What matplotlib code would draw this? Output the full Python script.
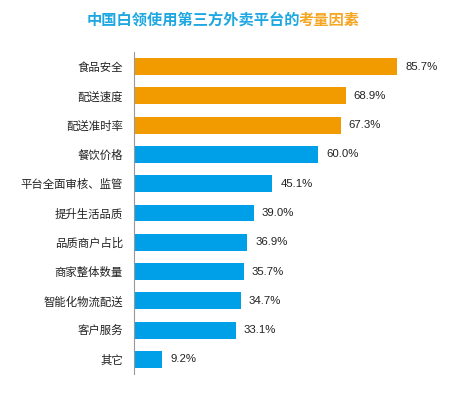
import matplotlib.pyplot as plt

plt.rcParams['font.family'] = ['Noto Sans CJK SC', 'DejaVu Sans']

categorias = ["食品安全", "配送速度", "配送准时率", "餐饮价格", "平台全面审核、监管",
              "提升生活品质", "品质商户占比", "商家整体数量", "智能化物流配送", "客户服务", "其它"]
valores = [85.7, 68.9, 67.3, 60.0, 45.1, 39.0, 36.9, 35.7, 34.7, 33.1, 9.2]
destaque = [True, True, True, False, False, False, False, False, False, False, False]

LARANJA = "#F29B00"
AZUL = "#00A0E9"
cores = [LARANJA if d else AZUL for d in destaque]

fig = plt.figure(figsize=(4.59, 3.94), dpi=100)
ax = fig.add_axes([134 / 459, 20 / 394, 307 / 459, 322 / 394])

pos = list(range(len(categorias)))
ax.barh(pos, valores, height=0.58, color=cores, edgecolor="none")
ax.set_ylim(len(categorias) - 0.5, -0.5)
ax.set_xlim(0, 100)

for p, v in zip(pos, valores):
    ax.text(v + 2.6, p, f"{v:.1f}%", va="center", ha="left", fontsize=8.2,
            family=["Liberation Sans", "DejaVu Sans"], color="#222222")

ax.set_yticks(pos)
ax.set_yticklabels(categorias, fontsize=8.2, color="#222222")
ax.tick_params(axis="y", length=0, pad=8)
ax.set_xticks([])
for lado in ["top", "right", "bottom"]:
    ax.spines[lado].set_visible(False)
ax.spines["left"].set_color("#999999")
ax.spines["left"].set_linewidth(0.8)

# titulo em duas cores, centralizado
y_tit = 1 - 20 / 394
t1 = fig.text(0, y_tit, "中国白领使用第三方外卖平台的", ha="left", va="center",
              fontsize=11, fontweight="bold", color="#1EA7E1")
t2 = fig.text(0, y_tit, "考量因素", ha="left", va="center",
              fontsize=11, fontweight="bold", color="#F5A623")
fig.canvas.draw()
w1 = t1.get_window_extent().width - 2
w2 = t2.get_window_extent().width
x0 = 223 - (w1 + w2) / 2
t1.set_x(x0 / 459)
t2.set_x((x0 + w1) / 459)

fig.savefig("out.png", dpi=100)
